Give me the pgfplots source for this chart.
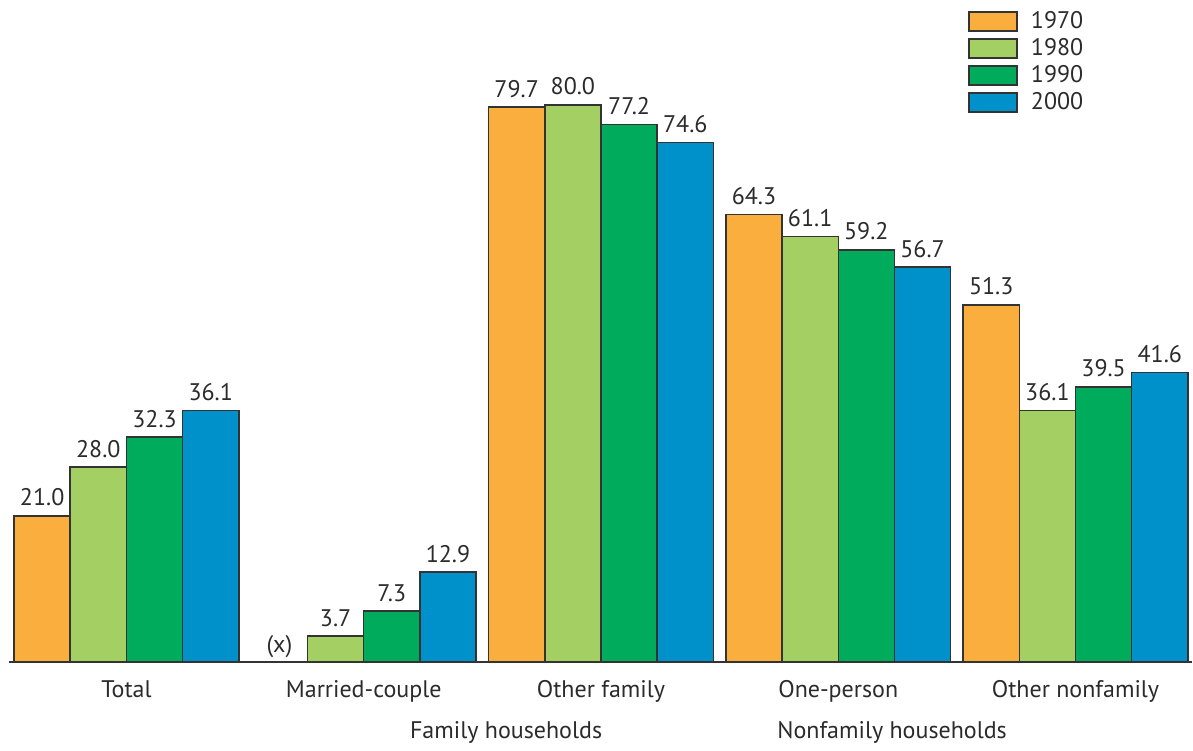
\documentclass[border=0pt]{standalone}
\usepackage{pgfplots}
\pgfplotsset{compat=1.18}
\usepackage{fontspec}
\setmainfont{PT Sans}
\definecolor{c70}{HTML}{F9AE3E}
\definecolor{c80}{HTML}{A4CF63}
\definecolor{c90}{HTML}{00AC5C}
\definecolor{c00}{HTML}{0090CA}
\definecolor{edge}{HTML}{333333}
\definecolor{txt}{HTML}{2B2B2B}
\begin{document}
\fontsize{12pt}{14pt}\selectfont
\begin{tikzpicture}
\begin{axis}[
  scale only axis,
  width=591.5pt, height=331pt,
  xmin=-0.495, xmax=4.491, ymin=0, ymax=95.08,
  ybar=0pt, bar width=28.1pt,
  axis x line=bottom, axis y line=none,
  x axis line style={-, draw=edge, line width=0.6pt},
  xtick={0,1,2,3,4},
  xticklabels={Total,Married-couple,Other family,One-person,Other nonfamily},
  major tick length=0pt,
  xticklabel style={yshift=-5pt, text=txt, font=\fontsize{12pt}{14pt}\selectfont},
  point meta=explicit symbolic,
  nodes near coords,
  nodes near coords style={font=\fontsize{12pt}{14pt}\selectfont, text=txt, inner sep=0pt, anchor=base, yshift=5pt},
  every axis plot/.append style={draw=edge, line width=0.75pt},
  clip=false,
  legend style={at={(0.8107,0.9834)}, anchor=north west, draw=none, fill=none,
    font=\fontsize{12pt}{14pt}\selectfont, text=txt, row sep=3.1pt, column sep=6.5pt, inner sep=0pt,
    nodes={inner sep=0pt}},
  legend cell align=left,
  legend image code/.code={\draw[#1] (0pt,-4.75pt) rectangle (24pt,4.75pt);},
]
\addplot[fill=c70] coordinates {(0,21.0)[21.0] (1,0)[(x)] (2,79.7)[79.7] (3,64.3)[64.3] (4,51.3)[51.3]};
\addplot[fill=c80] coordinates {(0,28.0)[28.0] (1,3.7)[3.7] (2,80.0)[80.0] (3,61.1)[61.1] (4,36.1)[36.1]};
\addplot[fill=c90] coordinates {(0,32.3)[32.3] (1,7.3)[7.3] (2,77.2)[77.2] (3,59.2)[59.2] (4,39.5)[39.5]};
\addplot[fill=c00] coordinates {(0,36.1)[36.1] (1,12.9)[12.9] (2,74.6)[74.6] (3,56.7)[56.7] (4,41.6)[41.6]};
\legend{1970,1980,1990,2000}
\node[font=\fontsize{12pt}{14pt}\selectfont, text=txt, anchor=base] at ([yshift=-38pt]axis cs:1.6,0) {Family households};
\node[font=\fontsize{12pt}{14pt}\selectfont, text=txt, anchor=base] at ([yshift=-38pt]axis cs:3.227,0) {Nonfamily households};
\end{axis}
\path ([xshift=-4.5pt]current axis.south west) rectangle ([xshift=0.5pt]current axis.north east);
\end{tikzpicture}
\end{document}
